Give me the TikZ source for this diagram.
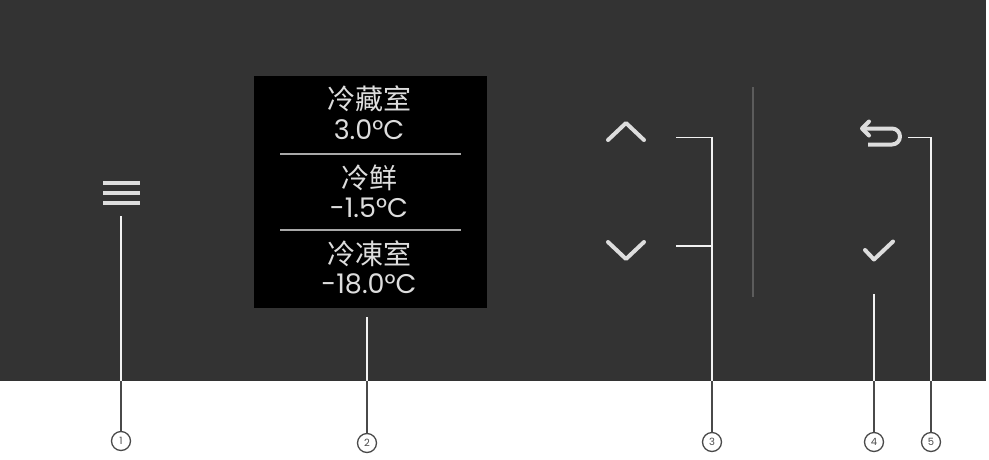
\documentclass[tikz,border=0pt]{standalone}
\usepackage{fontspec}
\setmainfont{Poppins}
\newfontfamily\cjkfont{Noto Sans CJK SC}
\definecolor{panel}{HTML}{333333}
\definecolor{icon}{HTML}{DDDDDD}
\definecolor{leadin}{HTML}{F2F2F2}
\definecolor{leadout}{HTML}{4A4A4A}
\definecolor{sep}{HTML}{A8A8A8}
\definecolor{divider}{HTML}{5C5C5C}
\begin{document}
\begin{tikzpicture}[x=1pt,y=-1pt,
  iconline/.style={draw=icon,line width=4pt,line cap=round,line join=round},
  leadinner/.style={draw=leadin,line width=1.6pt},
  leadouter/.style={draw=leadout,line width=1.3pt},
  callout/.style={circle,draw=leadout,line width=1.3pt,minimum size=19pt,inner sep=0pt,text=leadout,font=\fontsize{10}{10}\selectfont},
  zh/.style={text=icon,inner sep=0pt,anchor=center,font=\cjkfont\fontsize{28}{28}\selectfont},
  temp/.style={text=icon,inner sep=0pt,anchor=center,font=\fontsize{27}{27}\selectfont}]
\useasboundingbox (0,0) rectangle (989,459);
\fill[white] (0,0) rectangle (989,459);
\fill[panel] (0,0) rectangle (986,381);
% display
\fill[black] (254,76) rectangle (487,308);
\node[zh] (t1) at (369,99) {冷藏室};
\node[temp] (v1) at (369,130) {3.0°C};
\draw[sep,line width=2pt] (280,154) -- (461,154);
\node[zh] (t2) at (369,177.5) {冷鲜};
\node[temp] (v2) at (369,208) {-1.5°C};
\draw[sep,line width=2pt] (280,230) -- (461,230);
\node[zh] (t3) at (369,254) {冷凍室};
\node[temp] (v3) at (369,283.5) {-18.0°C};
% menu icon
\foreach \yy in {183,193,203} \draw[icon,line width=3.6pt] (103,\yy) -- (140,\yy);
% chevrons
\draw[iconline] (608,140) -- (626,123) -- (644,140);
\draw[iconline] (608,242) -- (626,259) -- (644,242);
% divider
\draw[divider,line width=1.8pt] (753,87) -- (753,297);
% back arrow
\draw[iconline,line cap=butt] (862,128.5) -- (892,128.5) arc[start angle=-90,end angle=90,radius=8] -- (868,144.5);
\draw[iconline] (869,121.5) -- (862,128.5) -- (869,135.5);
% check
\draw[iconline] (865,250) -- (874,259.5) -- (893,241.5);
% callouts
\node[callout] (c1) at (121,441) {1};
\node[callout] (c2) at (367,443) {2};
\node[callout] (c3) at (712,442) {3};
\node[callout] (c4) at (874,442) {4};
\node[callout] (c5) at (931,442) {5};
\coordinate (p1) at (121,216);
\coordinate (e1) at (121,381);
\coordinate (p2) at (367,317);
\coordinate (e2) at (367,381);
\coordinate (pu) at (676,137.5);
\coordinate (pd) at (676,246);
\coordinate (k3) at (712,137.5);
\coordinate (e3) at (712,381);
\coordinate (p4) at (874,294);
\coordinate (e4) at (874,381);
\coordinate (p5) at (908,137.5);
\coordinate (k5) at (931,137.5);
\coordinate (e5) at (931,381);
\draw[leadinner] (p1) -- (e1);
\draw[leadouter] (e1) -- (c1);
\draw[leadinner] (p2) -- (e2);
\draw[leadouter] (e2) -- (c2);
\draw[leadinner] (pu) -- (k3) -- (e3);
\draw[leadinner] (pd) -- (pd -| k3);
\draw[leadouter] (e3) -- (c3);
\draw[leadinner] (p4) -- (e4);
\draw[leadouter] (e4) -- (c4);
\draw[leadinner] (p5) -- (k5) -- (e5);
\draw[leadouter] (e5) -- (c5);
\end{tikzpicture}
\end{document}
